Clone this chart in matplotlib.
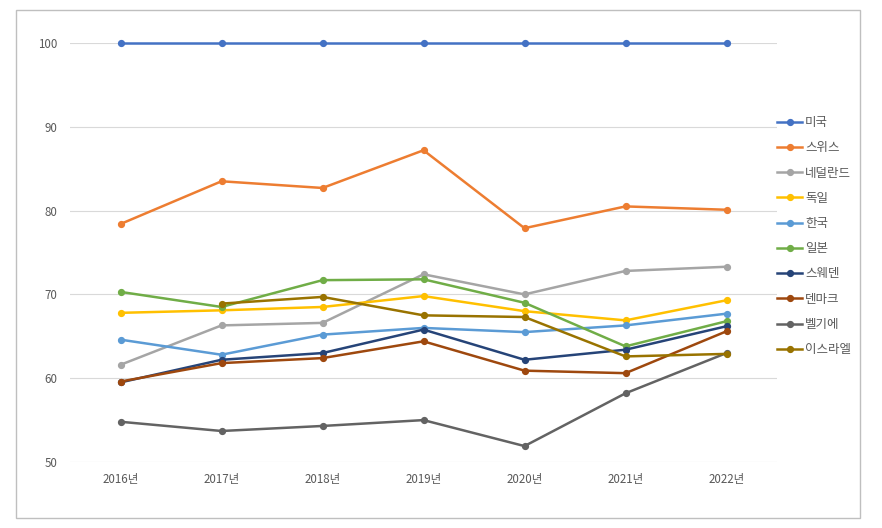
import matplotlib.pyplot as plt
from matplotlib.patches import Rectangle

plt.rcParams['font.family'] = ['Noto Sans CJK KR', 'DejaVu Sans']

years = ["2016년", "2017년", "2018년", "2019년", "2020년", "2021년", "2022년"]

usa = [100, 100, 100, 100, 100, 100, 100]
switzerland = [78.4, 83.5, 82.7, 87.2, 77.9, 80.5, 80.1]
netherlands = [61.6, 66.3, 66.6, 72.4, 70.0, 72.8, 73.3]
germany = [67.8, 68.1, 68.5, 69.8, 68.0, 66.9, 69.3]
korea = [64.6, 62.8, 65.2, 66.0, 65.5, 66.3, 67.7]
japan = [70.3, 68.5, 71.7, 71.8, 69.0, 63.8, 66.8]
sweden = [59.5, 62.2, 63.0, 65.8, 62.2, 63.4, 66.2]
denmark = [59.6, 61.8, 62.4, 64.4, 60.9, 60.6, 65.6]
belgium = [54.8, 53.7, 54.3, 55.0, 51.9, 58.2, 63.0]
israel = [None, 68.9, 69.7, 67.5, 67.3, 62.6, 62.9]

series = [
    ("미국", usa, "#4472C4"),
    ("스위스", switzerland, "#ED7D31"),
    ("네덜란드", netherlands, "#A5A5A5"),
    ("독일", germany, "#FFC000"),
    ("한국", korea, "#5B9BD5"),
    ("일본", japan, "#70AD47"),
    ("스웨덴", sweden, "#264478"),
    ("덴마크", denmark, "#9E480E"),
    ("벨기에", belgium, "#636363"),
    ("이스라엘", israel, "#997300"),
]

W, H = 882, 528
fig = plt.figure(figsize=(W / 100, H / 100), dpi=100)
fig.patches.append(Rectangle((16 / W, 1 - 518 / H), (860 - 16) / W, (518 - 10) / H,
                             transform=fig.transFigure, fill=False,
                             edgecolor="#bfbfbf", linewidth=1.0))

ax = fig.add_axes([70 / W, 1 - 462 / H, (777 - 70) / W, (462 - 43) / H])

xs = list(range(len(years)))
for name, vals, color in series:
    px = [x for x, v in zip(xs, vals) if v is not None]
    py = [v for v in vals if v is not None]
    ax.plot(px, py, color=color, linewidth=1.8, marker="o", markersize=4.2,
            label=name, clip_on=False, zorder=3)

ax.set_xlim(-0.5, len(years) - 0.5)
ax.set_ylim(50, 100)
ax.set_yticks([50, 60, 70, 80, 90, 100])
ax.set_xticks(xs)
ax.set_xticklabels(years)
ax.grid(axis="y", color="#d9d9d9", linewidth=0.8, zorder=0)
ax.grid(axis="x", visible=False)
for s in ax.spines.values():
    s.set_visible(False)
ax.tick_params(axis="both", length=0, labelsize=8.3, colors="#595959")
ax.tick_params(axis="x", pad=8)
ax.tick_params(axis="y", pad=9)

leg = ax.legend(loc="upper left", bbox_to_anchor=(777 / W, 1 - 116 / H),
                bbox_transform=fig.transFigure, frameon=False, fontsize=9,
                labelspacing=0.98, handlelength=2.0, handletextpad=0.25,
                borderpad=0, borderaxespad=0)
for t in leg.get_texts():
    t.set_color("#595959")

fig.savefig("out.png", dpi=100)
